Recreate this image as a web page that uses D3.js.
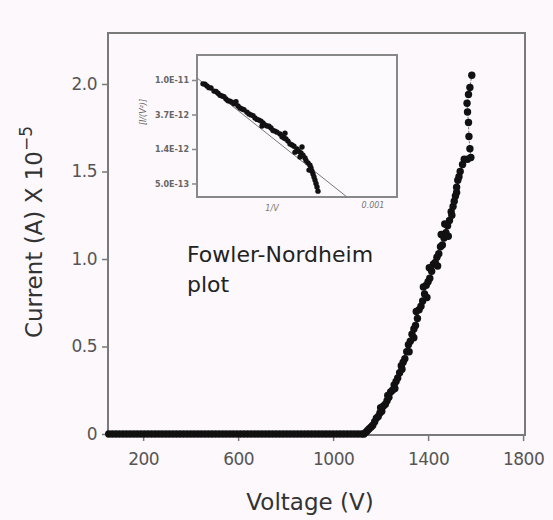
<!DOCTYPE html>
<html><head><meta charset="utf-8">
<script src="https://cdn.jsdelivr.net/npm/d3@7"></script>
<style>html,body{margin:0;padding:0;background:#fcf8fc;}svg{display:block;}</style>
</head><body>
<script>
// ---------- DATA ----------
const xTicks = [200, 600, 1000, 1400, 1800];
const yTicks = [0, 0.5, 1.0, 1.5, 2.0];
const yTickLabels = ["0", "0.5", "1.0", "1.5", "2.0"];

// flat region: current is zero
const flatVoltage = [55,70,85,100,115,130,145,160,175,190,205,220,235,250,265,280,295,310,325,340,355,370,385,400,415,430,445,460,475,490,505,520,535,550,565,580,595,610,625,640,655,670,685,700,715,730,745,760,775,790,805,820,835,850,865,880,895,910,925,940,955,970,985,1000,1015,1030,1045,1060,1075,1090,1105,1120];
const flatCurrent = flatVoltage.map(() => 0);

// rising region [voltage, current x1e-5]
const riseData = [
[1130,0.00],[1138,0.01],[1145,0.02],[1152,0.03],[1160,0.04],[1167,0.05],[1175,0.07],[1182,0.09],[1190,0.10],[1197,0.12],
[1205,0.13],[1212,0.16],[1220,0.17],[1227,0.19],[1235,0.21],[1242,0.24],[1250,0.25],[1257,0.28],[1265,0.30],[1272,0.32],
[1280,0.35],[1287,0.39],[1295,0.41],[1302,0.43],[1310,0.47],[1317,0.51],[1325,0.53],[1332,0.57],[1340,0.60],[1347,0.62],
[1355,0.66],[1362,0.71],[1370,0.73],[1377,0.76],[1385,0.80],[1392,0.85],[1400,0.87],[1407,0.89],[1415,0.93],[1422,0.97],
[1430,0.98],[1437,1.01],[1445,1.03],[1452,1.07],[1460,1.08],[1467,1.12],[1475,1.15],[1482,1.19],[1490,1.22],[1497,1.27],
[1505,1.30],[1510,1.33],[1515,1.36],[1520,1.41],[1525,1.45],[1530,1.47],[1535,1.50],[1545,1.54],[1552,1.57],[1566,1.57],
[1580,1.58],[1576,1.63],[1572,1.70],[1570,1.78],[1566,1.84],[1564,1.89],[1570,1.94],[1576,1.98],[1584,2.05]
];
const riseScatter = [
[1200,0.15],[1230,0.22],[1260,0.26],[1290,0.37],[1320,0.47],[1340,0.55],[1350,0.70],[1380,0.84],[1395,0.78],
[1405,0.95],[1440,0.96],[1455,1.14],[1470,1.20],[1485,1.13],[1500,1.25],[1520,1.38]
];

// inset: Fowler-Nordheim plot  [1/V, ln(I/V^2)]
const fnData = [
[0.000612,-25.44],[0.000620,-25.50],[0.000628,-25.56],[0.000634,-25.65],[0.000642,-25.71],[0.000650,-25.79],
[0.000658,-25.88],[0.000666,-25.94],[0.000674,-26.02],[0.000682,-26.08],[0.000690,-26.17],[0.000700,-26.26],
[0.000708,-26.34],[0.000716,-26.43],[0.000724,-26.49],[0.000732,-26.57],[0.000740,-26.66],[0.000748,-26.72],
[0.000756,-26.81],[0.000766,-26.89],[0.000774,-27.01],[0.000782,-27.10],[0.000790,-27.21],[0.000800,-27.33],
[0.000808,-27.44],[0.000816,-27.59],[0.000822,-27.73],[0.000828,-27.88],[0.000832,-28.05],[0.000836,-28.23],
[0.000840,-28.43],[0.000842,-28.55],
[0.000678,-25.96],[0.000730,-26.66],[0.000776,-26.87],[0.000796,-27.42],[0.000810,-27.27],[0.000824,-27.94],[0.000806,-27.56],
[0.000616,-25.45],[0.000624,-25.55],[0.000638,-25.66],[0.000646,-25.77],[0.000654,-25.81],[0.000662,-25.93],[0.000670,-25.97],
[0.000686,-26.14],[0.000694,-26.19],[0.000704,-26.31],[0.000712,-26.36],[0.000720,-26.47],[0.000728,-26.52],[0.000736,-26.63],
[0.000744,-26.67],[0.000752,-26.79],[0.000760,-26.84],[0.000770,-26.97],[0.000778,-27.04],[0.000786,-27.18],[0.000794,-27.25],
[0.000804,-27.40],[0.000812,-27.51],[0.000818,-27.66],[0.000826,-27.80],[0.000830,-27.97],[0.000834,-28.14],[0.000838,-28.33]
];
const fnFit = [[0.000600,-25.27],[0.000900,-28.72]];
const fnYTicks = [-25.328, -26.328, -27.328, -28.328];
const fnYTickLabels = ["1.0E-11", "3.7E-12", "1.4E-12", "5.0E-13"];

// ---------- DRAW ----------
const W = 553, H = 520;
const svg = d3.select("body").append("svg").attr("width", W).attr("height", H);
svg.append("rect").attr("width", W).attr("height", H).attr("fill", "#fcf8fc");

const x = d3.scaleLinear().domain([52, 1808]).range([108, 525]);
const y = d3.scaleLinear().domain([0, 2.3]).range([434, 31.5]);
const frameCol = "#7a7a7a";
const textCol = "#555";

// frame
svg.append("rect").attr("x", 108).attr("y", 33).attr("width", 417).attr("height", 402)
  .attr("fill", "none").attr("stroke", frameCol).attr("stroke-width", 2);

// x axis
const xAxis = svg.append("g").attr("transform", "translate(0,435)")
  .call(d3.axisBottom(x).tickValues(xTicks).tickSize(6).tickPadding(12).tickFormat(d3.format("d")));
xAxis.select(".domain").remove();
xAxis.selectAll("line").attr("stroke", frameCol).attr("stroke-width", 1.5);
xAxis.selectAll("text").attr("fill", textCol).style("font-family", "DejaVu Sans").style("font-size", "17px").style("letter-spacing","-0.5px");

// y axis
const yAxis = svg.append("g").attr("transform", "translate(108,0)")
  .call(d3.axisLeft(y).tickValues(yTicks).tickSize(6).tickPadding(5).tickFormat((d,i) => yTickLabels[i]));
yAxis.select(".domain").remove();
yAxis.selectAll("line").attr("stroke", frameCol).attr("stroke-width", 1.5);
yAxis.selectAll("text").attr("fill", textCol).style("font-family", "DejaVu Sans").style("font-size", "17px").style("letter-spacing","-0.5px");

// axis titles
svg.append("text").attr("x", 310).attr("y", 510).attr("text-anchor", "middle")
  .attr("fill", "#333").style("font-family", "DejaVu Sans").style("font-size", "23px").text("Voltage (V)");
const yt = svg.append("text").attr("transform", "translate(42,232) rotate(-90)").attr("text-anchor", "middle")
  .attr("fill", "#333").style("font-family", "DejaVu Sans").style("font-size", "23px");
yt.append("tspan").text("Current (A) X 10");
yt.append("tspan").attr("dy", -10).style("font-size", "17px").text("−5");

// main data
const line = d3.line().x(d => x(d[0])).y(d => y(d[1]));
svg.append("path").datum(riseData).attr("d", line).attr("fill", "none")
  .attr("stroke", "#444").attr("stroke-width", 0.8).attr("stroke-dasharray", "2,1.5");
const flatData = flatVoltage.map((v, i) => [v, flatCurrent[i]]);
svg.append("g").selectAll("circle").data(flatData.concat(riseData, riseScatter)).join("circle")
  .attr("cx", d => x(d[0])).attr("cy", d => y(d[1])).attr("r", 3.7).attr("fill", "#111");

// ---------- INSET ----------
const ix = d3.scaleLinear().domain([0.0006, 0.001]).range([197, 397]);
const iy = d3.scaleLinear().domain([-28.72, -24.603]).range([197, 55]);
const inset = svg.append("g");
inset.append("rect").attr("x", 197).attr("y", 55).attr("width", 200).attr("height", 142)
  .attr("fill", "#fdfafd").attr("stroke", "#888").attr("stroke-width", 2);
const iyAxis = inset.append("g").attr("transform", "translate(197,0)")
  .call(d3.axisLeft(iy).tickValues(fnYTicks).tickSize(5).tickPadding(3).tickFormat((d,i) => fnYTickLabels[i]));
iyAxis.select(".domain").remove();
iyAxis.selectAll("line").attr("stroke", "#888").attr("stroke-width", 1.5);
iyAxis.selectAll("text").attr("fill", "#666").style("font-family", "DejaVu Sans").style("font-size", "8px").style("font-weight","bold");
inset.append("text").attr("transform", "translate(146,112) rotate(-90)").attr("text-anchor", "middle")
  .attr("fill", "#666").style("font-family", "DejaVu Sans").style("font-size", "8px").style("font-style","italic")
  .text("[I/(V²)]");
inset.append("text").attr("x", 272).attr("y", 211).attr("text-anchor", "middle")
  .attr("fill", "#777").style("font-family", "DejaVu Sans").style("font-size", "8px").style("font-style","italic").text("1/V");
inset.append("text").attr("x", 373).attr("y", 208).attr("text-anchor", "middle")
  .attr("fill", "#777").style("font-family", "DejaVu Sans").style("font-size", "8px").style("font-style","italic").text("0.001");
inset.append("path").datum(fnFit).attr("d", d3.line().x(d => ix(d[0])).y(d => iy(d[1])))
  .attr("stroke", "#777").attr("stroke-width", 1).attr("fill", "none");
inset.append("g").selectAll("circle").data(fnData).join("circle")
  .attr("cx", d => ix(d[0])).attr("cy", d => iy(d[1])).attr("r", 2.7).attr("fill", "#111");

// annotation
const ann = svg.append("text").attr("fill", "#222").style("font-family", "DejaVu Sans").style("font-size", "22px");
ann.append("tspan").attr("x", 187).attr("y", 262).text("Fowler-Nordheim");
ann.append("tspan").attr("x", 187).attr("y", 292).text("plot");
</script>
</body></html>
